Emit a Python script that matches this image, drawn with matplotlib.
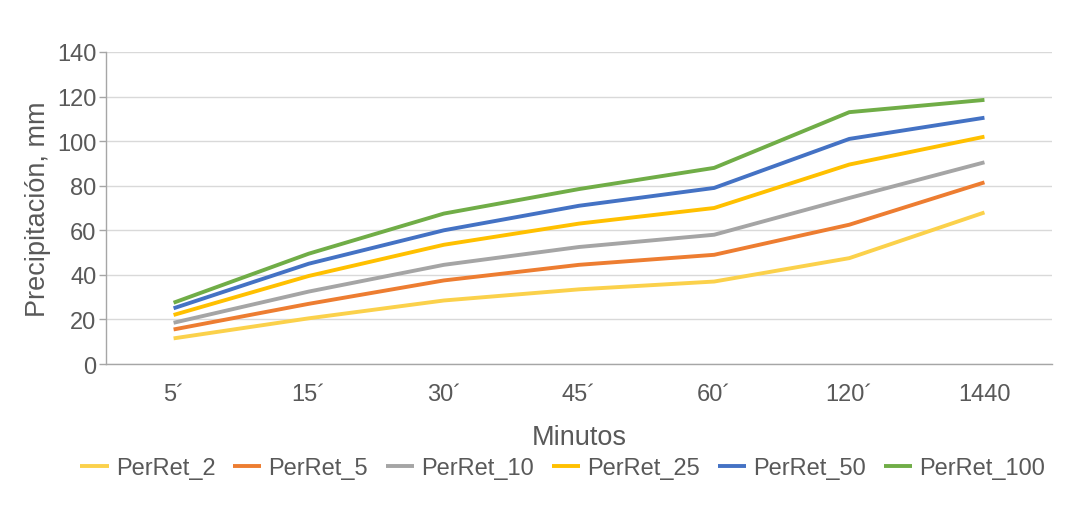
import matplotlib
matplotlib.use("Agg")
import matplotlib.pyplot as plt

plt.rcParams['font.family'] = ['Liberation Sans', 'DejaVu Sans']

# Durations (minutes) and precipitation depth per return period
durations = ["5´", "15´", "30´", "45´", "60´", "120´", "1440"]
per_ret_2 = [11.5, 20.5, 28.5, 33.5, 37.0, 47.5, 68.0]
per_ret_5 = [15.5, 27.0, 37.5, 44.5, 49.0, 62.5, 81.5]
per_ret_10 = [18.5, 32.5, 44.5, 52.5, 58.0, 74.5, 90.5]
per_ret_25 = [22.0, 39.5, 53.5, 63.0, 70.0, 89.5, 102.0]
per_ret_50 = [25.0, 45.0, 60.0, 71.0, 79.0, 101.0, 110.5]
per_ret_100 = [27.5, 49.5, 67.5, 78.5, 88.0, 113.0, 118.5]

series_names = ["PerRet_2", "PerRet_5", "PerRet_10", "PerRet_25", "PerRet_50", "PerRet_100"]
series_values = [per_ret_2, per_ret_5, per_ret_10, per_ret_25, per_ret_50, per_ret_100]
series_colors = ["#FBD14B", "#ED7D31", "#A5A5A5", "#FFC000", "#4472C4", "#70AD47"]

text_color = "#595959"

fig = plt.figure(figsize=(10.84, 5.10), dpi=100)
ax = fig.add_axes([0.0978, 0.2843, 0.8727, 0.6118])

x = list(range(len(durations)))
for name, vals, col in zip(series_names, series_values, series_colors):
    ax.plot(x, vals, color=col, lw=2.8, label=name, solid_capstyle="butt",
            solid_joinstyle="round")

ax.set_xlim(-0.5, len(durations) - 0.5)
ax.set_ylim(0, 140)
ax.set_yticks(range(0, 141, 20))
ax.set_xticks(x)
ax.set_xticklabels(durations)

ax.grid(axis="y", color="#D9D9D9", lw=1.0)
ax.set_axisbelow(True)
for side in ("top", "right"):
    ax.spines[side].set_visible(False)
for side in ("left", "bottom"):
    ax.spines[side].set_color("#A6A6A6")
    ax.spines[side].set_linewidth(1.0)

ax.tick_params(axis="y", colors="#A6A6A6", labelcolor=text_color, labelsize=17,
               length=5, width=1.0, pad=2)
ax.tick_params(axis="x", length=0, labelcolor=text_color, labelsize=17, pad=14)

ax.set_xlabel("Minutos", color=text_color, fontsize=19.5, labelpad=13)
ax.set_ylabel("Precipitación, mm", color=text_color, fontsize=19.5, labelpad=4)

leg = fig.legend(loc="center", bbox_to_anchor=(0.519, 0.080), ncol=6, frameon=False,
                 fontsize=17, handlelength=1.2, handletextpad=0.3, columnspacing=0.75)
for t in leg.get_texts():
    t.set_color(text_color)

fig.savefig("out.png", dpi=100)
